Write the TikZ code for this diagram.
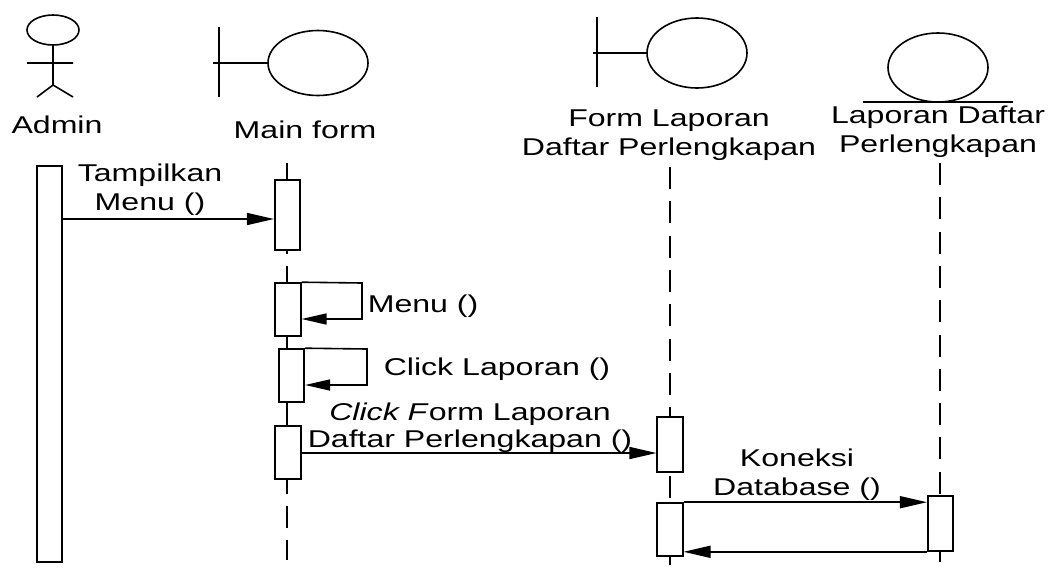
\documentclass[tikz,border=0pt]{standalone}
\usepackage{fontspec}
\setmainfont{Liberation Sans}[FakeStretch=1.32]
\usetikzlibrary{arrows.meta}
\begin{document}
\begin{tikzpicture}[x=1pt,y=-1pt,line width=1.6pt,
  lbl/.style={inner sep=0pt,font=\fontsize{24.3}{28.5}\selectfont},
  lbl2/.style={inner sep=0pt,align=center,font=\fontsize{24.3}{28.5}\selectfont},
  actbox/.style={draw,fill=white,inner sep=0pt,minimum width=25.5pt},
  lifeline/.style={dash pattern=on 22pt off 12.3pt},
  msg/.style={-{Triangle[length=27pt,width=12pt]}},
  selfmsg/.style={-{Triangle[length=25pt,width=11pt]}}]
\useasboundingbox (0,0) rectangle (1059,574);
% ---- lifelines
\coordinate (mtop) at (287,163);
\coordinate (mbot) at (287,560);
\coordinate (ftop) at (670,167);
\coordinate (fbot) at (670,565);
\coordinate (etop) at (940,163);
\coordinate (ebot) at (940,562);
\draw[lifeline] (mtop) -- (mbot);
\draw[lifeline] (ftop) -- (fbot);
\draw[lifeline] (etop) -- (ebot);
% ---- actor Admin
\draw (53,30) ellipse [x radius=26, y radius=15];
\draw (53,45) -- (53,85) (27,63) -- (73,63) (37,97) -- (53,85) -- (73,97);
\node[lbl,anchor=base] (admin) at (57,133) {Admin};
% ---- boundary Main form
\draw (219,27) -- (219,97) (213,63) -- (268,63);
\draw (318,63) ellipse [x radius=50, y radius=32.5];
\node[lbl,anchor=base] (mainform) at (305,138.5) {Main form};
% ---- boundary Form Laporan
\draw (597,17) -- (597,87) (593,53) -- (647,53);
\draw (697,53) ellipse [x radius=50, y radius=35];
\node[lbl2] (formlap) at (669,135) {Form Laporan\\Daftar Perlengkapan};
% ---- entity Laporan Daftar Perlengkapan
\draw (938,67.5) ellipse [x radius=50, y radius=34.5];
\draw (863,102) -- (1013,102);
\node[lbl2] (entlap) at (938,131.75) {Laporan Daftar\\Perlengkapan};
% ---- activation boxes
\node[actbox,minimum height=396pt] (admbox) at (49.5,364) {};
\node[actbox,minimum height=70pt] (mb1) at (287.5,215) {};
\node[actbox,minimum height=53pt] (mb2) at (288,309.5) {};
\node[actbox,minimum height=53pt] (mb3) at (291.5,375.5) {};
\node[actbox,minimum height=53pt] (mb4) at (288,452.5) {};
\node[actbox,minimum height=55pt] (fb1) at (670,444.5) {};
\node[actbox,minimum height=53pt] (fb2) at (670,529.5) {};
\node[actbox,minimum height=55pt] (eb1) at (940.5,523.5) {};
% ---- messages
\draw[msg] (admbox.east |- 0,219) -- (mb1.west |- 0,219);
\node[lbl2] (m1) at (150,189.75) {Tampilkan\\Menu ()};
\coordinate (s1a) at (362,283);
\coordinate (s1b) at (362,319);
\draw[selfmsg] (mb2.north east) -- (s1a) -- (s1b) -- (mb2.east |- s1b);
\node[lbl,anchor=base west] (m2) at (367,312) {Menu ()};
\coordinate (s2a) at (367,349);
\coordinate (s2b) at (367,385);
\draw[selfmsg] (mb3.north east) -- (s2a) -- (s2b) -- (mb3.east |- s2b);
\node[lbl,anchor=base west] (m3) at (383,375.5) {Click Laporan ()};
\draw[msg] (mb4.east |- 0,453) -- (fb1.west |- 0,453);
\node[lbl2,font=\fontsize{24.3}{27}\selectfont] (m4) at (470,427.5) {\textit{Click F}orm Laporan\\Daftar Perlengkapan ()};
\draw[msg] (fb2.north east) -- (eb1.west |- fb2.north);
\node[lbl2] (m5) at (797,474.5) {Koneksi\\Database ()};
\draw[msg] (eb1.south west) -- (fb2.east |- eb1.south);
\end{tikzpicture}
\end{document}
